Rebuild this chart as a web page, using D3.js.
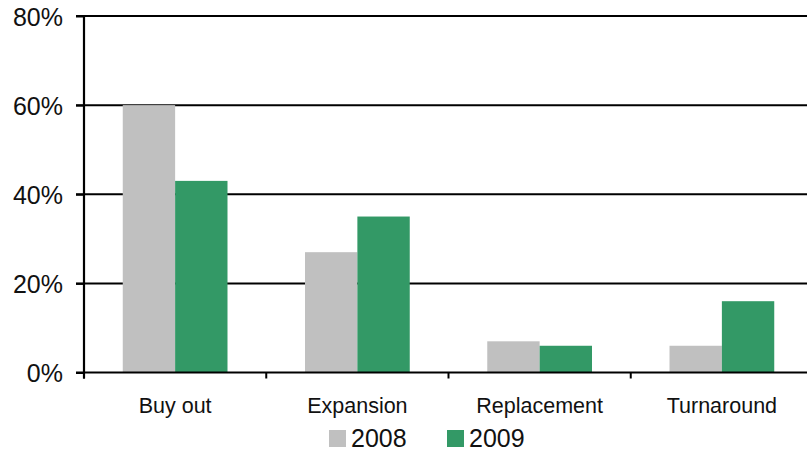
<!DOCTYPE html>
<html>
<head>
<meta charset="utf-8">
<script src="https://cdn.jsdelivr.net/npm/d3@7"></script>
<style>
  html, body { margin: 0; padding: 0; background: #fff; }
  svg text { font-family: "Liberation Sans", Arial, Helvetica, sans-serif; fill: #111; }
</style>
</head>
<body>
<svg id="chart" width="807" height="453"></svg>
<script>
// Share of deals by investment type
const categories = ["Buy out", "Expansion", "Replacement", "Turnaround"];
const seriesNames = ["2008", "2009"];
const values2008 = [60, 27, 7, 6];
const values2009 = [43, 35, 6, 16];
const yTicks = [0, 20, 40, 60, 80];
const colors = ["#c0c0c0", "#339966"];

const seriesValues = [values2008, values2009];
const svg = d3.select("#chart");

const plotLeft = 84, plotRight = 813, plotTop = 16, plotBottom = 372.5;

const x0 = d3.scaleBand().domain(categories).range([plotLeft, plotRight]).paddingInner(0).paddingOuter(0);
const x1 = d3.scaleBand().domain(seriesNames).range([0, x0.bandwidth()]).paddingInner(0).paddingOuter(0.74);
const y = d3.scaleLinear().domain([0, 80]).range([plotBottom, plotTop]);

// horizontal gridlines behind the bars
svg.append("g")
  .selectAll("line")
  .data(yTicks.filter(d => d > 0))
  .join("line")
  .attr("x1", plotLeft - 8).attr("x2", 807)
  .attr("y1", d => y(d)).attr("y2", d => y(d))
  .attr("stroke", "#000").attr("stroke-width", 2);

// bars
const groups = svg.append("g")
  .selectAll("g")
  .data(categories)
  .join("g")
  .attr("transform", d => `translate(${x0(d)},0)`);

groups.selectAll("rect")
  .data((c, i) => seriesNames.map((s, j) => ({ s, j, v: seriesValues[j][i] })))
  .join("rect")
  .attr("x", d => x1(d.s))
  .attr("width", x1.bandwidth())
  .attr("y", d => y(d.v))
  .attr("height", d => y(0) - y(d.v))
  .attr("fill", d => colors[d.j]);

// y axis
const yAxis = d3.axisLeft(y).tickValues(yTicks).tickFormat(d => d + "%").tickSize(8).tickPadding(13);
const gy = svg.append("g").attr("transform", `translate(${plotLeft},0)`).call(yAxis);
gy.select(".domain").remove();
gy.selectAll(".tick line").attr("stroke", "#000").attr("stroke-width", 2);
gy.selectAll(".tick text").attr("font-size", 25).attr("dy", "0.36em")
  .style("font-family", "'Liberation Sans', Arial, sans-serif").attr("fill", "#111");
svg.append("line")
  .attr("x1", plotLeft).attr("x2", plotLeft)
  .attr("y1", plotTop - 1).attr("y2", plotBottom + 6)
  .attr("stroke", "#000").attr("stroke-width", 2.2);

// x axis baseline and boundary ticks
svg.append("line")
  .attr("x1", plotLeft - 8).attr("x2", 807)
  .attr("y1", y(0)).attr("y2", y(0))
  .attr("stroke", "#000").attr("stroke-width", 2.2);
svg.append("g")
  .selectAll("line")
  .data(categories)
  .join("line")
  .attr("x1", d => x0(d)).attr("x2", d => x0(d))
  .attr("y1", y(0)).attr("y2", y(0) + 6)
  .attr("stroke", "#000").attr("stroke-width", 2);

// category labels
svg.append("g")
  .selectAll("text")
  .data(categories)
  .join("text")
  .attr("x", d => x0(d) + x0.bandwidth() / 2)
  .attr("y", 413)
  .attr("text-anchor", "middle")
  .attr("font-size", 21.5)
  .text(d => d);

// legend
const legendX = [329, 447];
const legend = svg.append("g")
  .selectAll("g")
  .data(seriesNames)
  .join("g")
  .attr("transform", (d, i) => `translate(${legendX[i]},430)`);
legend.append("rect").attr("width", 17).attr("height", 17).attr("fill", (d, i) => colors[i]);
legend.append("text").attr("x", 22).attr("y", 17).attr("font-size", 25).text(d => d);
</script>
</body>
</html>
